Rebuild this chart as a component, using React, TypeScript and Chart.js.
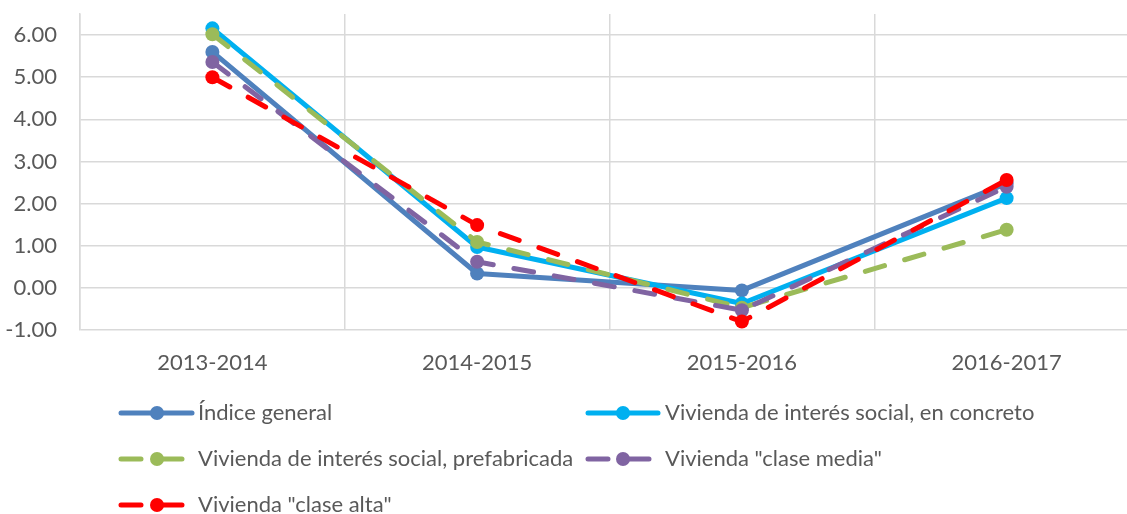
import React, { useEffect, useRef } from "react";
import { Chart, registerables } from "chart.js";

Chart.register(...registerables);

const categories = ["2013-2014", "2014-2015", "2015-2016", "2016-2017"];
const indiceGeneral = [5.6, 0.34, -0.06, 2.48];
const concreto = [6.16, 0.97, -0.37, 2.13];
const prefabricada = [6.02, 1.09, -0.47, 1.38];
const claseMedia = [5.36, 0.62, -0.53, 2.4];
const claseAlta = [5.0, 1.49, -0.8, 2.56];
const yTicks = [-1, 0, 1, 2, 3, 4, 5, 6];

const seriesLabels = [
  "Índice general",
  "Vivienda de interés social, en concreto",
  "Vivienda de interés social, prefabricada",
  'Vivienda "clase media"',
  'Vivienda "clase alta"',
];
const seriesData = [indiceGeneral, concreto, prefabricada, claseMedia, claseAlta];
const seriesColors = ["#4F81BD", "#00B0F0", "#9BBB59", "#8064A2", "#FF0000"];
const seriesDashed = [false, false, true, true, true];

const FONT = "Lato";
const TEXT = "#595959";
const GRID = "#d9d9d9";
const DASH = [20, 21];

// legend layout: [lineStartX, markerX, lineEndX, textX, centerY]
const legendPos = [
  [121, 157, 192, 198, 413],
  [588, 623, 658, 665, 413],
  [121, 157, 192, 198, 459],
  [588, 623, 658, 665, 459],
  [121, 157, 192, 198, 505],
];

const legendPlugin = {
  id: "customLegend",
  afterDraw(chart: any) {
    const ctx = chart.ctx;
    ctx.save();
    seriesLabels.forEach((label, i) => {
      const [x0, xm, x1, tx, y] = legendPos[i];
      ctx.strokeStyle = seriesColors[i];
      ctx.lineWidth = 5;
      ctx.lineCap = "round";
      ctx.setLineDash(seriesDashed[i] ? DASH : []);
      ctx.beginPath();
      ctx.moveTo(x0, y);
      ctx.lineTo(x1, y);
      ctx.stroke();
      ctx.setLineDash([]);
      ctx.fillStyle = seriesColors[i];
      ctx.beginPath();
      ctx.arc(xm, y, 7, 0, Math.PI * 2);
      ctx.fill();
      ctx.fillStyle = TEXT;
      ctx.font = `22px ${FONT}`;
      ctx.textAlign = "left";
      ctx.textBaseline = "middle";
      ctx.fillText(label, tx, y);
    });
    ctx.restore();
  },
};

export default function App() {
  const ref = useRef<HTMLCanvasElement>(null);
  useEffect(() => {
    if (!ref.current) return;
    Chart.defaults.font.family = FONT;
    Chart.defaults.font.size = 22;
    Chart.defaults.color = TEXT;
    const chart = new Chart(ref.current, {
      type: "line",
      data: {
        labels: categories,
        datasets: seriesLabels.map((label, i) => ({
          label,
          data: seriesData[i],
          borderColor: seriesColors[i],
          backgroundColor: seriesColors[i],
          borderWidth: 5,
          borderDash: seriesDashed[i] ? DASH : [],
          borderCapStyle: "round",
          borderJoinStyle: "round",
          tension: 0,
          pointRadius: 7,
          pointHoverRadius: 7,
          pointBorderWidth: 0,
          pointBackgroundColor: seriesColors[i],
          order: seriesLabels.length - i,
        })),
      },
      options: {
        animation: false,
        responsive: false,
        devicePixelRatio: 1,
        layout: { padding: { top: 14, left: 0, right: 0, bottom: 0 } },
        plugins: { legend: { display: false }, tooltip: { enabled: false } },
        scales: {
          x: {
            offset: true,
            grid: { offset: true, color: GRID, lineWidth: 1.5, drawTicks: false },
            border: { display: false },
            ticks: { padding: 20, color: TEXT, font: { size: 22, family: FONT } },
            afterFit: (s: any) => {
              s.height = 184;
            },
          },
          y: {
            min: -1,
            max: 6.5,
            grid: {
              color: GRID,
              lineWidth: 1.5,
              drawTicks: true,
              tickLength: 23,
              tickColor: "rgba(0,0,0,0)",
            },
            border: { display: true, color: GRID, width: 1.5 },
            afterBuildTicks: (s: any) => {
              s.ticks = yTicks.map((v) => ({ value: v }));
            },
            ticks: {
              padding: 0,
              color: TEXT,
              font: { size: 22, family: FONT },
              callback: (v: any) => Number(v).toFixed(2),
            },
            afterFit: (s: any) => {
              s.width = 80;
            },
          },
        },
      },
      plugins: [legendPlugin],
    } as any);
    return () => chart.destroy();
  }, []);
  return (
    <div
      style={{
        position: "absolute",
        left: 0,
        top: 0,
        width: 1127,
        height: 514,
        overflow: "hidden",
        background: "#fff",
      }}
    >
      <canvas ref={ref} width={1146} height={514} style={{ display: "block" }} />
    </div>
  );
}
